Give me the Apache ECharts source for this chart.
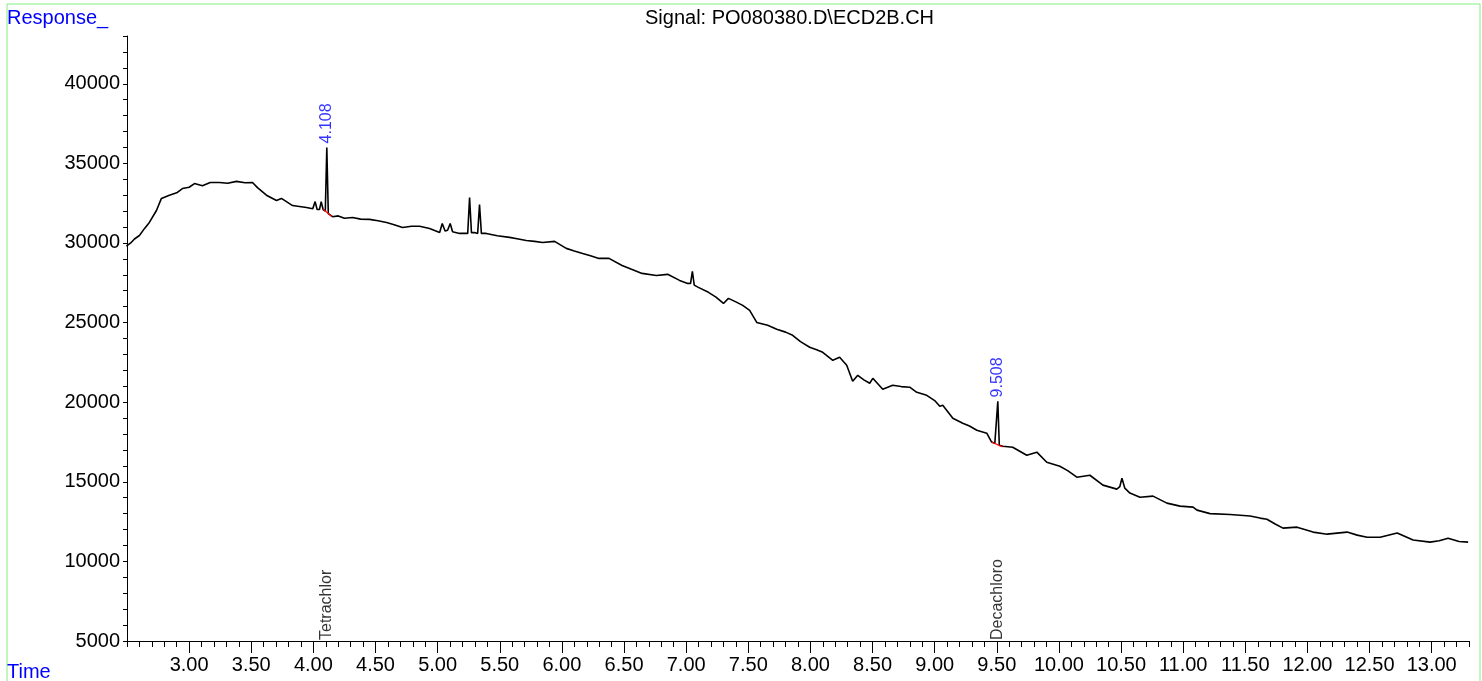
<!DOCTYPE html>
<html><head><meta charset="utf-8">
<script src="https://cdn.jsdelivr.net/npm/echarts@6/dist/echarts.min.js"></script>
<style>html,body{margin:0;padding:0;background:#fff;overflow:hidden}#c{width:1482px;height:681px}</style>
</head><body><div id="c"></div>
<script>
// ---- data ----
const trace = [
[2.495,29800],[2.53,30000],[2.56,30250],[2.60,30470],[2.64,30900],[2.68,31290],[2.737,32040],[2.777,32800],
[2.841,33000],[2.90,33150],[2.946,33420],[3.00,33500],[3.043,33730],[3.107,33600],[3.17,33800],[3.244,33800],
[3.31,33750],[3.381,33870],[3.45,33780],[3.51,33800],[3.55,33480],[3.622,33000],[3.703,32670],[3.743,32800],
[3.832,32350],[3.944,32230],[3.995,32150],[4.014,32600],[4.03,32100],[4.049,32100],[4.063,32600],[4.078,32100],
[4.096,32000],[4.108,36000],[4.12,31850],[4.154,31650],[4.20,31700],[4.25,31550],[4.315,31600],[4.38,31500],
[4.452,31480],[4.52,31400],[4.589,31290],[4.65,31150],[4.718,30970],[4.79,31050],[4.855,31050],[4.935,30910],
[5.016,30660],[5.037,31220],[5.06,30750],[5.08,30800],[5.101,31220],[5.12,30700],[5.176,30600],[5.242,30600],
[5.257,32860],[5.272,30650],[5.297,30660],[5.322,30600],[5.337,32420],[5.352,30600],[5.391,30600],[5.48,30450],
[5.579,30350],[5.65,30250],[5.713,30160],[5.78,30100],[5.845,30030],[5.941,30100],[6.035,29660],[6.10,29500],
[6.167,29340],[6.23,29200],[6.298,29030],[6.379,29030],[6.484,28590],[6.56,28350],[6.645,28090],[6.76,27960],
[6.851,28030],[6.947,27650],[7.012,27460],[7.035,27450],[7.05,28210],[7.065,27350],[7.098,27210],[7.179,26900],
[7.24,26600],[7.30,26200],[7.34,26520],[7.40,26300],[7.455,26080],[7.511,25770],[7.568,25010],[7.656,24830],
[7.729,24580],[7.80,24400],[7.857,24200],[7.92,23800],[7.994,23450],[8.05,23300],[8.099,23130],[8.18,22630],
[8.235,22820],[8.292,22320],[8.34,21310],[8.381,21690],[8.43,21400],[8.477,21190],[8.502,21500],[8.582,20810],
[8.662,21060],[8.73,20980],[8.799,20940],[8.856,20620],[8.936,20430],[9.00,20100],[9.041,19740],[9.065,19810],
[9.146,18990],[9.226,18680],[9.28,18500],[9.339,18240],[9.419,18050],[9.457,17500],[9.484,17420],[9.496,17400],
[9.508,20050],[9.52,17300],[9.548,17230],[9.628,17170],[9.741,16670],[9.822,16860],[9.902,16230],[10.007,15980],
[10.07,15700],[10.144,15290],[10.249,15410],[10.354,14790],[10.466,14540],[10.49,14700],[10.507,15230],[10.53,14600],
[10.571,14290],[10.652,14030],[10.757,14100],[10.869,13660],[10.974,13470],[11.079,13410],[11.111,13220],[11.216,13000],
[11.377,12950],[11.538,12850],[11.618,12720],[11.674,12650],[11.74,12350],[11.803,12090],[11.916,12150],[12.045,11840],
[12.158,11710],[12.319,11840],[12.40,11650],[12.48,11520],[12.585,11520],[12.722,11780],[12.85,11340],[12.987,11210],
[13.06,11300],[13.132,11460],[13.22,11250],[13.293,11210]
];
const peakBaselines = [
  [[4.076,32140],[4.148,31660]],
  [[9.457,17500],[9.546,17190]]
];
const peakTimes = [4.108, 9.508];
const peakTops = [36000, 20050];
const peakTexts = ['4.108', '9.508'];
const compoundNames = ['Tetrachlor', 'Decachloro'];
const xTickValues = [3.0,3.5,4.0,4.5,5.0,5.5,6.0,6.5,7.0,7.5,8.0,8.5,9.0,9.5,10.0,10.5,11.0,11.5,12.0,12.5,13.0];
const yTickValues = [5000,10000,15000,20000,25000,30000,35000,40000];
const titleText = 'Signal: PO080380.D\\ECD2B.CH';
const yName = 'Response_';
const xName = 'Time';

// ---- chart ----
const FONT = '"Liberation Sans", Arial, sans-serif';
const chart = echarts.init(document.getElementById('c'), null, {renderer: 'canvas'});
const xMin = 2.5, xMax = 13.3, yMin = 5000, yMax = 43000;
const baseSeries = peakBaselines.map(seg => ({
  type: 'line', data: seg, showSymbol: false, silent: true, z: 4,
  lineStyle: {color: '#ff0000', width: 1.2}, itemStyle: {color: '#ff0000'}
}));
const option = {
  animation: false,
  backgroundColor: '#fff',
  title: [
    {text: titleText, left: 645, top: 8, padding: 0, textStyle: {fontFamily: FONT, fontSize: 20, fontWeight: 'normal', color: '#000'}},
    {text: yName, left: 7, top: 8, padding: 0, textStyle: {fontFamily: FONT, fontSize: 20, fontWeight: 'normal', color: '#0000ff'}},
    {text: xName, left: 7, top: 662, padding: 0, textStyle: {fontFamily: FONT, fontSize: 20, fontWeight: 'normal', color: '#0000ff'}}
  ],
  graphic: [{type: 'rect', shape: {x: 7, y: 4, width: 1473, height: 720}, style: {fill: 'none', stroke: '#80f080', lineWidth: 1}, silent: true}],
  grid: {left: 127, right: 13, top: 36, bottom: 40, containLabel: false},
  xAxis: [
    {type: 'value', min: xMin, max: xMax, position: 'bottom',
     axisLine: {show: true, onZero: false, lineStyle: {color: '#000', width: 1}},
     axisTick: {show: true, customValues: xTickValues, length: 12, lineStyle: {color: '#000'}},
     axisLabel: {show: true, customValues: xTickValues, formatter: v => Number(v).toFixed(2), fontFamily: FONT, fontSize: 20, color: '#000', margin: 14},
     splitLine: {show: false}},
    {type: 'value', min: xMin, max: xMax, interval: 0.1, position: 'bottom',
     axisLine: {show: false, onZero: false},
     axisTick: {show: true, length: 6, lineStyle: {color: '#000'}},
     axisLabel: {show: false}, splitLine: {show: false}}
  ],
  yAxis: [{type: 'value', min: yMin, max: yMax, interval: 1000,
     axisLine: {show: true, onZero: false, lineStyle: {color: '#000', width: 1}},
     axisTick: {show: true, length: 4, lineStyle: {color: '#000'}},
     axisLabel: {show: true, formatter: v => (yTickValues.indexOf(v) >= 0 ? String(v) : ''), fontFamily: FONT, fontSize: 20, color: '#000', margin: 7},
     splitLine: {show: false}}],
  series: [
    {type: 'line', data: trace, showSymbol: false, silent: true, z: 3, sampling: 'none',
     lineStyle: {color: '#000', width: 1.6}, itemStyle: {color: '#000'}},
    ...baseSeries,
    {type: 'scatter', symbolSize: 0, silent: true, clip: false, z: 5,
     data: peakTimes.map((t, i) => ({value: [t, peakTops[i]], label: {formatter: peakTexts[i]}})),
     label: {show: true, position: 'top', distance: 4, rotate: 90, align: 'left', verticalAlign: 'middle',
             fontFamily: FONT, fontSize: 16, color: '#0000ff'}},
    {type: 'scatter', symbolSize: 0, silent: true, clip: false, z: 5,
     data: peakTimes.map((t, i) => ({value: [t, yMin], label: {formatter: compoundNames[i]}})),
     label: {show: true, position: 'top', distance: 1, rotate: 90, align: 'left', verticalAlign: 'middle',
             fontFamily: FONT, fontSize: 16, color: '#000'}}
  ]
};
chart.setOption(option);
</script>
</body></html>
